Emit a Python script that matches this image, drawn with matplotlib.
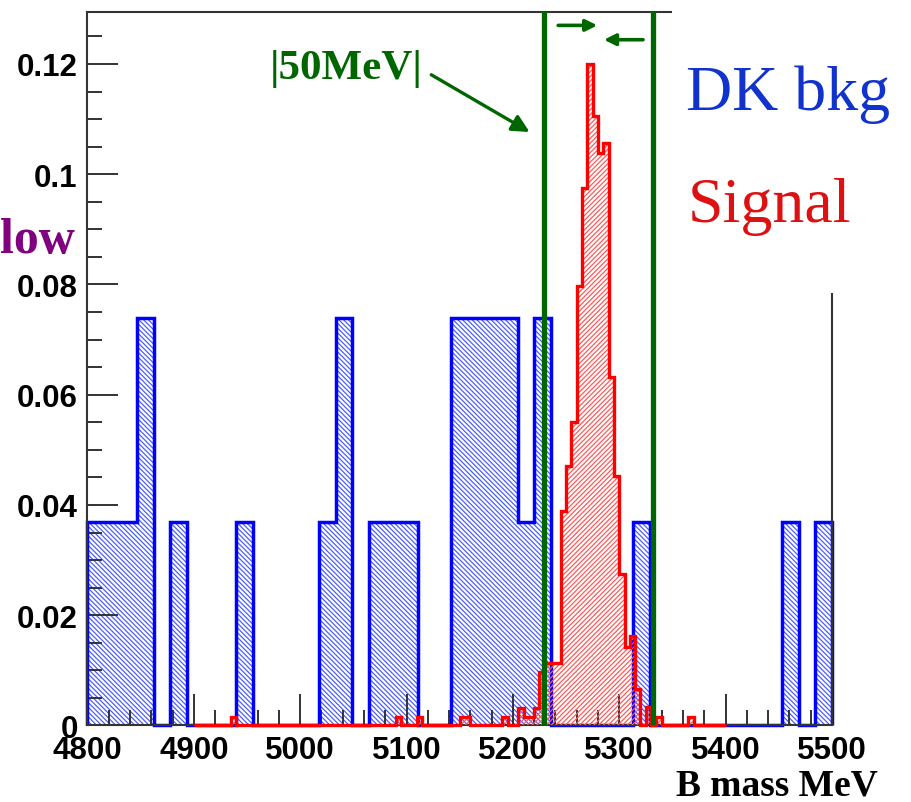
import numpy as np
import matplotlib
matplotlib.use("Agg")
import matplotlib.pyplot as plt
from matplotlib.patches import Rectangle
from matplotlib.ticker import MultipleLocator, FuncFormatter

plt.rcParams['hatch.linewidth'] = 0.9

# DK background, 45 bins between 4800 and 5500 MeV (normalised, 27 entries)
bkg_edges = np.linspace(4800, 5500, 46)
bkg_vals = [0.037, 0.037, 0.037, 0.074, 0, 0.037, 0, 0, 0, 0.037,
            0, 0, 0, 0, 0.037, 0.074, 0, 0.037, 0.037, 0.037,
            0, 0, 0.074, 0.074, 0.074, 0.074, 0.037, 0.074, 0, 0,
            0, 0, 0, 0.037, 0, 0, 0, 0, 0, 0,
            0, 0, 0.037, 0, 0.037]

# signal, 5 MeV bins between 4900 and 5400 MeV, only the filled bins
sig_edges = np.arange(4900, 5405, 5)
sig_left = [4935, 5090, 5110, 5150, 5155, 5190, 5205, 5210, 5215, 5220,
            5225, 5230, 5235, 5240, 5245, 5250, 5255, 5260, 5265, 5270,
            5275, 5280, 5285, 5290, 5295, 5300, 5305, 5310, 5315, 5325,
            5335, 5365]
sig_hits = [0.0016, 0.0016, 0.0016, 0.0016, 0.0016, 0.0016, 0.0032, 0.0016, 0.0016, 0.0032,
            0.0097, 0.0113, 0.0113, 0.0113, 0.0389, 0.0471, 0.055, 0.0797, 0.0975, 0.120,
            0.1105, 0.1039, 0.1056, 0.0633, 0.0453, 0.0275, 0.0142, 0.0163, 0.0066, 0.0033,
            0.0016, 0.0016]

sig_vals = np.zeros(len(sig_edges) - 1)
for left, v in zip(sig_left, sig_hits):
    sig_vals[int(round((left - 4900) / 5))] = v

# mass window
cut_lo = 5229.5
cut_hi = 5331.5

green = '#006600'
fig = plt.figure(figsize=(9.11, 8.03), dpi=100)
ax = fig.add_axes([0.096, 0.0953, 0.8172, 0.889])

ax.stairs(bkg_vals, bkg_edges, fill=True, facecolor='none', edgecolor='#4d5fff',
          hatch='\\\\\\\\\\\\\\', linewidth=0, zorder=1)
ax.stairs(bkg_vals, bkg_edges, baseline=0, color='#0000ff', linewidth=2.5,
          zorder=2, clip_on=False)
ax.stairs(sig_vals, sig_edges, fill=True, facecolor='none', edgecolor='#ff5a5a',
          hatch='///////', linewidth=0, zorder=3)
ax.stairs(sig_vals, sig_edges, baseline=0, color='#ff0000', linewidth=2.4,
          zorder=4, clip_on=False)

ax.axvline(cut_lo, color=green, lw=3.8, zorder=5)
ax.axvline(cut_hi, color=green, lw=3.8, zorder=5)

ax.annotate('', xy=(5282, 0.127), xytext=(5240, 0.127),
            arrowprops=dict(arrowstyle='-|>', color=green, lw=2.6, mutation_scale=17))
ax.annotate('', xy=(5283, 0.1244), xytext=(5325, 0.1244),
            arrowprops=dict(arrowstyle='-|>', color=green, lw=2.6, mutation_scale=17))
ax.annotate('', xy=(5218, 0.1074), xytext=(5121, 0.1183),
            arrowprops=dict(arrowstyle='-|>', color=green, lw=2.4, mutation_scale=26))
ax.text(5043, 0.1192, '|50MeV|', color=green, fontsize=31, fontweight='bold',
        family='Liberation Serif', ha='center', va='center')

ax.set_xlim(4800, 5500)
ax.set_ylim(0, 0.1295)
ax.xaxis.set_major_locator(MultipleLocator(100))
ax.xaxis.set_minor_locator(MultipleLocator(20))
ax.yaxis.set_major_locator(MultipleLocator(0.02))
ax.yaxis.set_minor_locator(MultipleLocator(0.005))
ax.yaxis.set_major_formatter(FuncFormatter(lambda v, p: '0' if abs(v) < 1e-9 else f'{v:g}'))
ax.tick_params(which='both', direction='in', color='#333333', width=1.4,
               top=False, right=False)
ax.tick_params(which='major', length=22, pad=7)
ax.tick_params(which='minor', length=11)
for lab in ax.get_xticklabels() + ax.get_yticklabels():
    lab.set_family('Liberation Sans')
    lab.set_fontweight('bold')
    lab.set_fontsize(22.5)
for s in ax.spines.values():
    s.set_color('#333333')
    s.set_linewidth(1.5)

# white legend area covering the top right of the frame
fig.add_artist(Rectangle((672 / 911, 1 - 294 / 803), 1, 1, transform=fig.transFigure,
                         facecolor='white', edgecolor='none', zorder=3))
fig.text(788 / 911, 1 - 110 / 803, 'DK bkg', color='#1133cc', fontsize=46,
         family='Liberation Serif', ha='center', va='baseline', zorder=4)
fig.text(769 / 911, 1 - 222 / 803, 'Signal', color='#dd1111', fontsize=46,
         family='Liberation Serif', ha='center', va='baseline', zorder=4)
fig.text(75 / 911, 1 - 253 / 803, 'low', color='#800080', fontsize=36, fontweight='bold',
         family='Liberation Serif', ha='right', va='baseline')
fig.text(878 / 911, 1 - 796 / 803, 'B mass MeV', color='black', fontsize=27, fontweight='bold',
         family='Liberation Serif', ha='right', va='baseline')

fig.savefig('out.png', dpi=100)
